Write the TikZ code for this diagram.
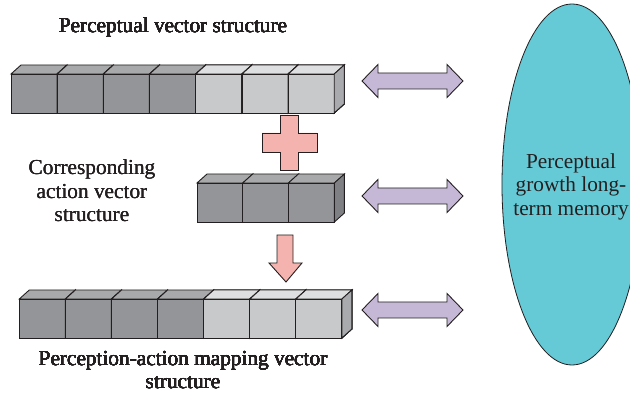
\documentclass[tikz,border=0pt]{standalone}
\usepackage{fontspec}
\setmainfont{Liberation Serif}
\usetikzlibrary{calc, shapes.geometric}

\definecolor{darkfront}{HTML}{939598}
\definecolor{darktop}{HTML}{A8A9AB}
\definecolor{darkside}{HTML}{7F8083}
\definecolor{lightfront}{HTML}{C8C9CB}
\definecolor{lighttop}{HTML}{DEDFE0}
\definecolor{lightside}{HTML}{A9AAAD}
\definecolor{inkgray}{HTML}{231F20}
\definecolor{plusred}{HTML}{F4B3AE}
\definecolor{linkviolet}{HTML}{C5B8D6}
\definecolor{memteal}{HTML}{66C9D6}

\tikzset{
  label/.style={text=inkgray, font=\fontsize{21.3}{23.5}\selectfont, align=center},
  edge/.style={draw=inkgray, line width=0.9pt, line join=miter},
}

% one cube: x, y of front top left corner, front, top, side colour
\newcommand{\vcube}[5]{%
  \draw[edge, fill=#3] (#1,#2) rectangle ++(46,39);
  \draw[edge, fill=#4] (#1,#2) -- ++(10,-9) -- ++(46,0) -- ++(-10,9) -- cycle;
  \draw[edge, fill=#5] (#1+46,#2) -- ++(10,-9) -- ++(0,39) -- ++(-10,9) -- cycle;
}

% double arrow centred at x, y
\newcommand{\linkarrow}[2]{%
  \draw[edge, fill=linkviolet] (#1-50.5,#2) -- ++(16,-16.5) -- ++(0,8.5) -- ++(69,0)
    -- ++(0,-8.5) -- ++(16,16.5) -- ++(-16,16.5) -- ++(0,-8.5) -- ++(-69,0)
    -- ++(0,8.5) -- cycle;
}

\begin{document}
\begin{tikzpicture}[x=1pt, y=-1pt]
  \useasboundingbox (0,0) rectangle (630,398);

  % memory
  \node[ellipse, draw=inkgray, line width=0.8pt, fill=memteal,
        minimum width=140pt, minimum height=361pt, inner sep=0pt] (memory) at (572,184.5) {};
  \node[label] (memtext) at (571,186.5) {Perceptual\\growth long-\\term memory};

  % perceptual vector
  \foreach \i in {0,...,3}
    \vcube{11+46.2*\i}{74}{darkfront}{darktop}{darkside}
  \foreach \i in {4,...,6}
    \vcube{11+46.2*\i}{74}{lightfront}{lighttop}{lightside}
  \node[label] (title) at (173,27) {Perceptual vector structure};

  % plus
  \draw[edge, fill=plusred] (280,115) -- (298,115) -- (298,133) -- (317,133) -- (317,152)
    -- (298,152) -- (298,170) -- (280,170) -- (280,152) -- (262,152) -- (262,133)
    -- (280,133) -- cycle;

  % action vector
  \foreach \i in {0,...,2}
    \vcube{197+45.7*\i}{183}{darkfront}{darktop}{darkside}
  \node[label] (actionlabel) at (92,191) {Corresponding\\action vector\\structure};

  % down arrow
  \draw[edge, fill=plusred] (277,235) -- (293,235) -- (293,263) -- (302,263) -- (286,282)
    -- (269,263) -- (277,263) -- cycle;

  % mapping vector
  \foreach \i in {0,...,3}
    \vcube{19.3+46.1*\i}{299}{darkfront}{darktop}{darkside}
  \foreach \i in {4,...,6}
    \vcube{19.3+46.1*\i}{299}{lightfront}{lighttop}{lightside}
  \node[label] (maplabel) at (183,370) {Perception-action mapping vector\\structure};

  % links to memory
  \linkarrow{412.5}{81}
  \linkarrow{412.5}{196}
  \linkarrow{412.5}{310}
\end{tikzpicture}
\end{document}
